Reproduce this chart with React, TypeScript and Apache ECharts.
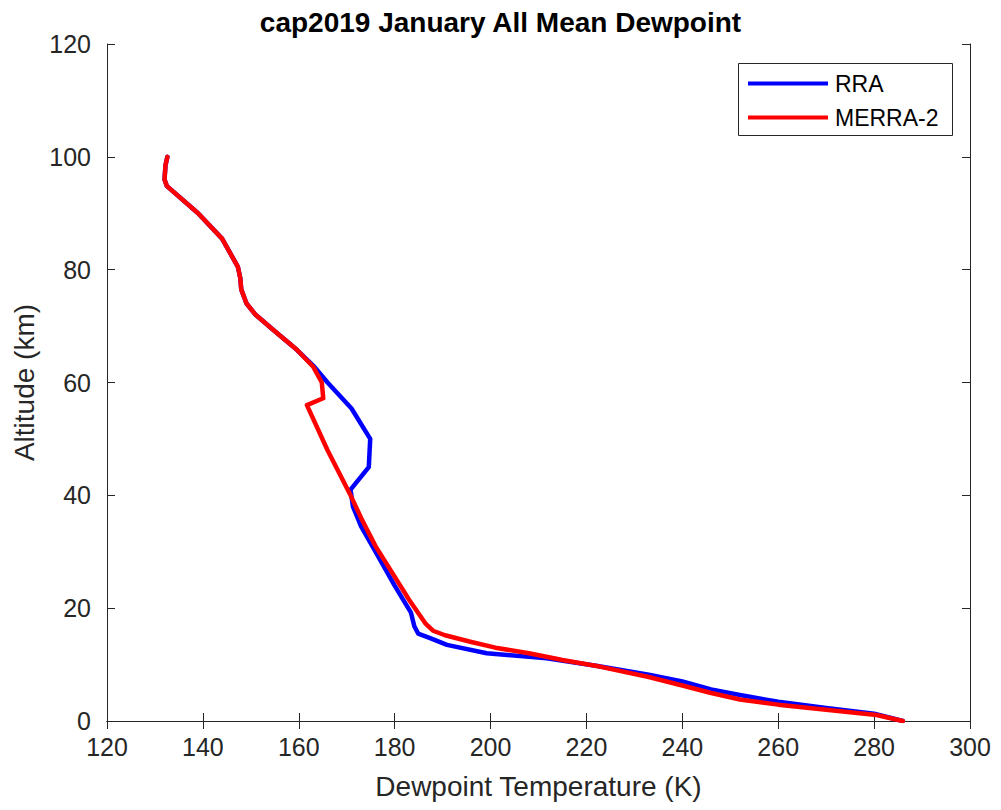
import React, { useEffect, useRef } from "react";
import * as echarts from "echarts";

const xTicks = [120, 140, 160, 180, 200, 220, 240, 260, 280, 300];
const yTicks = [0, 20, 40, 60, 80, 100, 120];

const rraTemp = [286, 280, 270, 260, 252, 246, 240, 233, 222, 211.7, 199.2, 190.9, 187.4, 184.9, 184.1, 183.4, 180, 176, 173, 171.3, 170.8, 174.6, 174.9, 171, 166, 163, 159.6, 154.7, 151, 149.1, 148, 147.8, 147.3, 144, 139, 132.5, 132, 132.2, 132.6];
const rraAlt = [0, 1.3, 2.3, 3.4, 4.6, 5.6, 7, 8.2, 9.8, 11.1, 12, 13.5, 14.7, 15.5, 16.8, 19.2, 24, 30, 34.5, 38, 41, 45, 50, 55.4, 60, 63, 65.8, 69.3, 72, 74, 76.5, 78.5, 80.5, 85.5, 90, 94.8, 96, 98.5, 100];

const merraTemp = [286, 280.5, 270, 260, 252, 245.8, 240, 233, 223, 215, 208, 201, 196, 190.5, 188, 186.5, 183, 179.7, 176, 173, 170.8, 166, 161.7, 165.1, 164.8, 163, 159.6, 154.7, 151, 149.1, 148, 147.8, 147.3, 144, 139, 132.5, 132, 132.2, 132.6];
const merraAlt = [0, 1.06, 2, 2.9, 3.8, 5, 6.3, 7.8, 9.6, 10.8, 12, 13, 14, 15.2, 16, 17.2, 21.5, 26, 31, 36, 40, 48, 56, 57.2, 60, 62.8, 65.8, 69.3, 72, 74, 76.5, 78.5, 80.5, 85.5, 90, 94.8, 96, 98.5, 100];

const seriesNames = ["RRA", "MERRA-2"];
const titleText = "cap2019 January All Mean Dewpoint";
const xName = "Dewpoint Temperature (K)";
const yName = "Altitude (km)";

const AX = "#262626";
const FONT = "Liberation Sans, Arial, Helvetica, sans-serif";

export default function App() {
  const ref = useRef<HTMLDivElement>(null);
  useEffect(() => {
    if (!ref.current) return;
    const chart = echarts.init(ref.current, undefined, { renderer: "svg" });
    const axisCommon = {
      type: "value" as const,
      axisLine: { show: true, lineStyle: { color: AX, width: 1 } },
      axisTick: { show: true, inside: true, length: 8, lineStyle: { color: AX } },
      splitLine: { show: false },
    };
    chart.setOption({
      animation: false,
      backgroundColor: "#ffffff",
      textStyle: { fontFamily: FONT },
      title: {
        text: titleText,
        left: "center",
        top: 3,
        textStyle: { fontSize: 28, fontWeight: "bold", color: "#000", fontFamily: FONT },
      },
      grid: { left: 107, right: 31, top: 44, bottom: 89, containLabel: false },
      xAxis: [
        {
          ...axisCommon,
          position: "bottom",
          min: xTicks[0],
          max: xTicks[xTicks.length - 1],
          interval: 20,
          name: xName,
          nameLocation: "middle",
          nameGap: 51,
          nameTextStyle: { fontSize: 28, color: AX, fontFamily: FONT },
          axisLabel: { margin: 13, fontSize: 25, color: AX, fontFamily: FONT },
        },
        {
          ...axisCommon,
          position: "top",
          min: xTicks[0],
          max: xTicks[xTicks.length - 1],
          interval: 20,
          axisLabel: { show: false },
        },
      ],
      yAxis: [
        {
          ...axisCommon,
          position: "left",
          min: yTicks[0],
          max: yTicks[yTicks.length - 1],
          interval: 20,
          name: yName,
          nameLocation: "middle",
          nameGap: 69,
          nameTextStyle: { fontSize: 28, color: AX, fontFamily: FONT },
          axisLabel: { margin: 16, fontSize: 25, color: AX, fontFamily: FONT },
        },
        {
          ...axisCommon,
          position: "right",
          min: yTicks[0],
          max: yTicks[yTicks.length - 1],
          interval: 20,
          axisLabel: { show: false },
        },
      ],
      legend: {
        orient: "vertical",
        left: 748,
        top: 72,
        padding: 0,
        itemWidth: 80,
        itemHeight: 4,
        itemGap: 11,
        icon: "rect",
        z: 10,
        data: seriesNames,
        textStyle: { fontSize: 23, lineHeight: 22, color: "#000", fontFamily: FONT, padding: [0, 0, 0, 2] },
      },
      graphic: [
        {
          type: "rect",
          z: 5,
          shape: { x: 738.5, y: 63.5, width: 214, height: 72 },
          style: { fill: "#ffffff", stroke: AX, lineWidth: 1 },
        },
      ],
      series: [
        {
          name: seriesNames[0],
          type: "line",
          showSymbol: false,
          symbol: "none",
          color: "#0000ff",
          lineStyle: { width: 4.5, color: "#0000ff", cap: "round", join: "round" },
          data: rraTemp.map((t, i) => [t, rraAlt[i]]),
        },
        {
          name: seriesNames[1],
          type: "line",
          showSymbol: false,
          symbol: "none",
          color: "#ff0000",
          lineStyle: { width: 4.5, color: "#ff0000", cap: "round", join: "round" },
          data: merraTemp.map((t, i) => [t, merraAlt[i]]),
        },
      ],
    });
    return () => chart.dispose();
  }, []);
  return <div ref={ref} style={{ width: 1001, height: 810, position: "absolute", left: 0, top: 0 }} />;
}
